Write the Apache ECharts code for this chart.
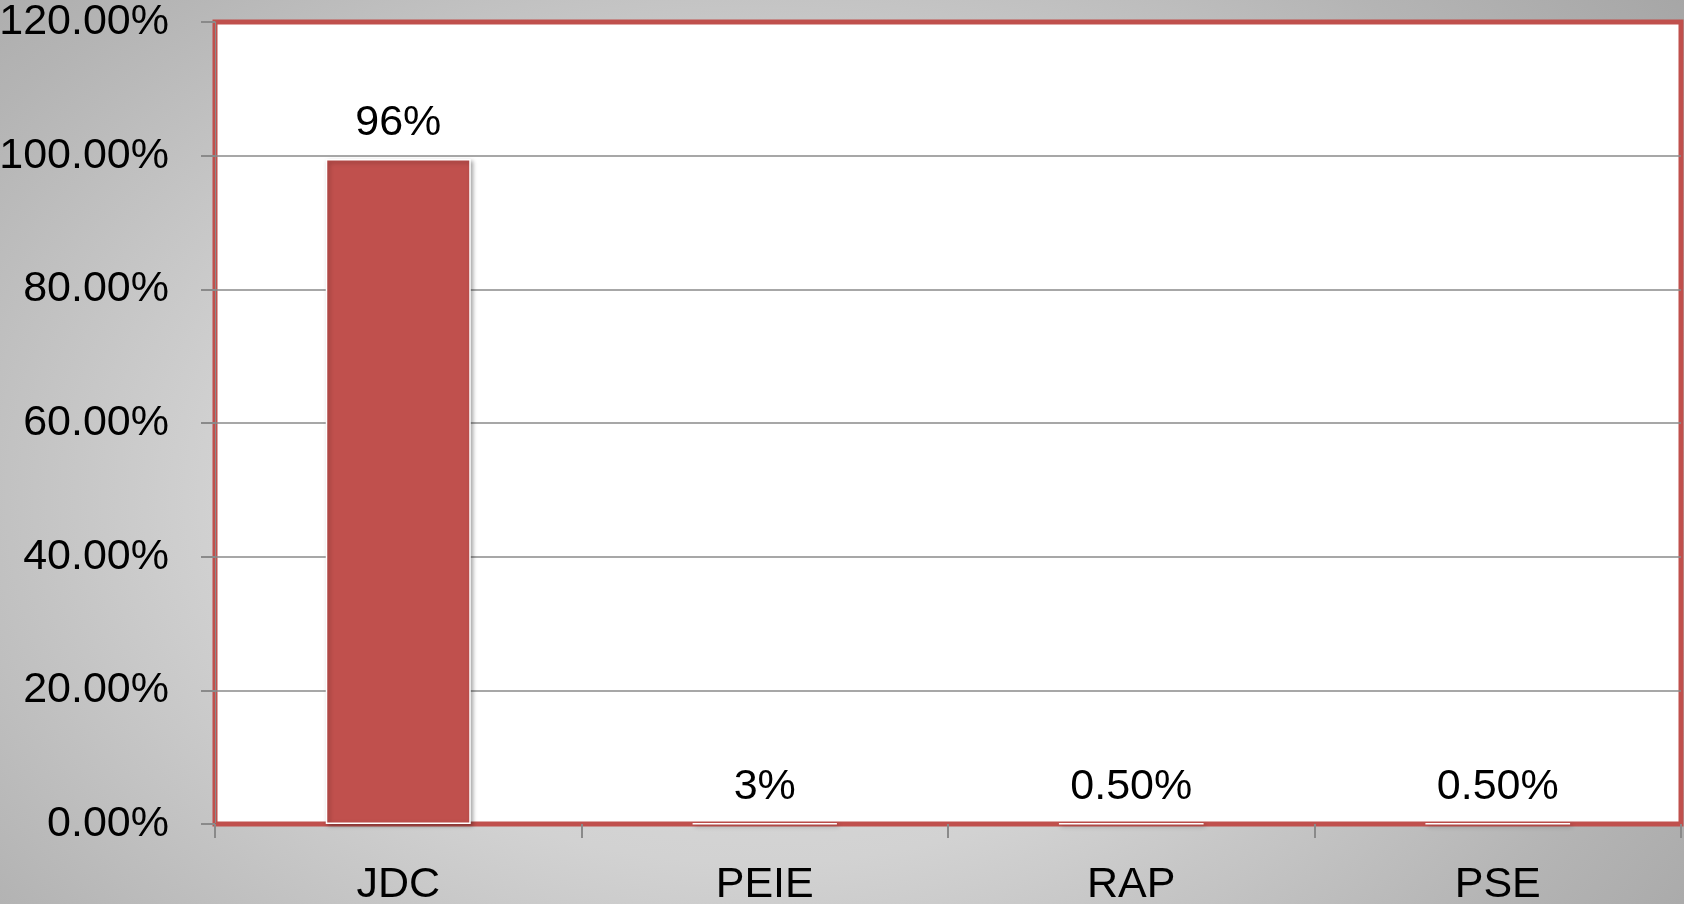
<!DOCTYPE html>
<html>
<head>
<meta charset="utf-8">
<script src="https://cdn.jsdelivr.net/npm/echarts@6/dist/echarts.min.js"></script>
<style>
  html, body { margin: 0; padding: 0; }
  body {
    width: 1684px; height: 904px; overflow: hidden;
    background: radial-gradient(ellipse 70% 90% at 45% 55%, #e2e2e2 0%, #d2d2d2 45%, #b4b4b4 80%, #a6a6a6 100%);
  }
  #main { width: 1684px; height: 904px; }
</style>
</head>
<body>
<div id="main"></div>
<script>
// categories and values (fractions), label texts as printed on the chart
var categories = ['JDC', 'PEIE', 'RAP', 'PSE'];
var values = [0.995, 0.001, 0.0005, 0.0005];
var valueLabels = ['96%', '3%', '0.50%', '0.50%'];

var chart = echarts.init(document.getElementById('main'));

var font = 'Liberation Sans';
var gray = '#8a8a8a';

var option = {
    backgroundColor: 'transparent',
    animation: false,
    grid: {
        left: 215, right: 3, top: 22, bottom: 80,
        outerBoundsMode: 'none',
        containLabel: false,
        show: true,
        backgroundColor: '#ffffff',
        borderColor: '#C0504D',
        borderWidth: 5
    },
    xAxis: {
        type: 'category',
        data: categories,
        axisLine: { show: true, lineStyle: { color: '#C0504D', width: 3 } },
        axisTick: { show: true, length: 14, lineStyle: { color: gray, width: 2 } },
        axisLabel: { color: '#000', fontFamily: font, fontSize: 43, margin: 40 },
        splitLine: { show: false }
    },
    yAxis: {
        type: 'value',
        min: 0, max: 1.2, interval: 0.2,
        axisLine: { show: true, lineStyle: { color: gray, width: 1 } },
        axisTick: { show: true, length: 14, lineStyle: { color: gray, width: 2 } },
        axisLabel: {
            color: '#000', fontFamily: font, fontSize: 43, margin: 46,
            formatter: function (v) { return (v * 100).toFixed(2) + '%'; }
        },
        splitLine: { show: true, showMinLine: false, showMaxLine: false, lineStyle: { color: gray, width: 1.5 } }
    },
    series: [{
        type: 'bar',
        data: values,
        barWidth: 145,
        itemStyle: {
            color: '#C0504D',
            borderColor: '#ffffff',
            borderWidth: 1.5,
            shadowColor: 'rgba(0,0,0,0.35)',
            shadowBlur: 4,
            shadowOffsetX: 2,
            shadowOffsetY: 2
        },
        label: {
            show: true,
            position: 'top',
            distance: 14,
            color: '#000',
            fontFamily: font,
            fontSize: 43,
            formatter: function (p) { return valueLabels[p.dataIndex]; }
        }
    }]
};

chart.setOption(option);
</script>
</body>
</html>
